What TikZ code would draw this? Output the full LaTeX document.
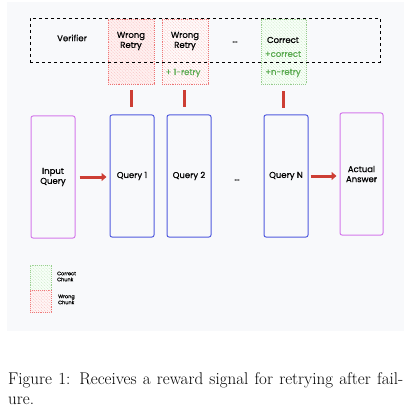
\documentclass[tikz,border=0pt]{standalone}
\usepackage{fontspec}
\usepackage{tikz}
\usetikzlibrary{arrows.meta,patterns.meta}
\newfontfamily\sketchfont[FakeBold=0.6]{Poppins}
\definecolor{panelbg}{RGB}{248,249,251}
\definecolor{inputc}{RGB}{212,120,235}
\definecolor{queryc}{RGB}{80,90,222}
\definecolor{arrowc}{RGB}{205,62,52}
\definecolor{wrongc}{RGB}{238,115,115}
\definecolor{rightc}{RGB}{150,205,140}
\definecolor{greentext}{RGB}{90,170,80}
\tikzset{
    txt/.style={font=\sketchfont\fontsize{8.5}{10}\selectfont, align=center, inner sep=0},
    legtxt/.style={font=\sketchfont\fontsize{5}{6}\selectfont, align=left, inner sep=0, anchor=west},
    box/.style={draw, line width=1pt, rounded corners=2pt, minimum width=44pt, minimum height=122pt, inner sep=0},
    wrongchunk/.style={draw=wrongc, densely dotted, line width=0.9pt, fill=red!#1,
        postaction={pattern={Lines[angle=-45,distance=2.2pt,line width=0.35pt]}, pattern color=wrongc!50},
        minimum width=46pt, minimum height=65pt, inner sep=0},
    rightchunk/.style={draw=rightc, densely dotted, line width=0.9pt, fill=green!3,
        postaction={pattern={Lines[angle=-45,distance=2.2pt,line width=0.35pt]}, pattern color=rightc!55},
        minimum width=45pt, minimum height=65pt, inner sep=0},
    bar/.style={arrowc, line width=3pt},
    flow/.style={arrowc, line width=3pt, -{Triangle[length=5pt,width=8pt]}}
}
\begin{document}
\begin{tikzpicture}[x=1pt,y=-1pt]
    \useasboundingbox (0,0) rectangle (412,409);
    \fill[panelbg] (7,2) rectangle (404,331);
    % verifier chunks
    \node[wrongchunk=6] (wr1) at (131,51.5) {};
    \node[wrongchunk=2] (wr2) at (185,51.5) {};
    \node[rightchunk] (ok) at (283.5,51.5) {};
    \node[draw, dashed, line width=0.8pt, minimum width=350pt, minimum height=44pt, inner sep=0] (verifier) at (205,40) {};
    \node[txt] (vert) at (72,38) {Verifier};
    \node[txt] (wr1t) at (131,41) {Wrong\\Retry};
    \node[txt] (wr2t) at (185,41) {Wrong\\Retry};
    \node[txt, text=greentext] (wr2r) at (183,73) {+ 1-retry};
    \node[txt] (dotsa) at (235,42) {...};
    \node[txt] (okt) at (283,40) {Correct};
    \node[txt, text=greentext] (okc) at (283,54) {+correct};
    \node[txt, text=greentext] (okn) at (283,73) {+n-retry};
    % queries
    \node[box, draw=inputc, txt] (inq) at (53,177) {Input\\Query};
    \node[box, draw=queryc, txt] (q1) at (132,176) {Query 1};
    \node[box, draw=queryc, txt] (q2) at (189,176) {Query 2};
    \node[txt] (dotsb) at (237,180) {...};
    \node[box, draw=queryc, txt] (qn) at (286,176) {Query N};
    \node[box, draw=inputc, txt, minimum width=43pt] (ans) at (361.5,174) {Actual\\Answer};
    \draw[bar, shorten <=6pt, shorten >=7pt] (wr1.south) -- (wr1.south |- q1.north);
    \draw[bar, shorten <=6pt, shorten >=7pt] (wr2.south) ++(-1,0) coordinate (b2) -- (b2 |- q2.north);
    \draw[bar, shorten <=7pt, shorten >=6pt] (ok.south) -- (ok.south |- qn.north);
    \draw[flow, shorten <=4pt, shorten >=3pt] (inq.east) -- (inq.east -| q1.west);
    \draw[flow, shorten <=2pt, shorten >=3pt] (qn.east) -- (qn.east -| ans.west);
    % legend
    \node[rightchunk, minimum width=21pt, minimum height=25pt] (legok) at (40.5,277.5) {};
    \node[wrongchunk=4, minimum width=21pt, minimum height=22pt] (legwr) at (40.5,301) {};
    \node[legtxt] (legokt) at (57,276.5) {Correct\\Chunk};
    \node[legtxt] (legwrt) at (58,299.5) {Wrong\\Chunk};
    % caption
    \node[anchor=north west, inner sep=0, text width=395pt, align=justify,
        font=\fontsize{17}{20}\selectfont] (caption) at (8,372)
        {Figure 1: Receives a reward signal for retrying after fail-\linebreak ure.};
\end{tikzpicture}
\end{document}
